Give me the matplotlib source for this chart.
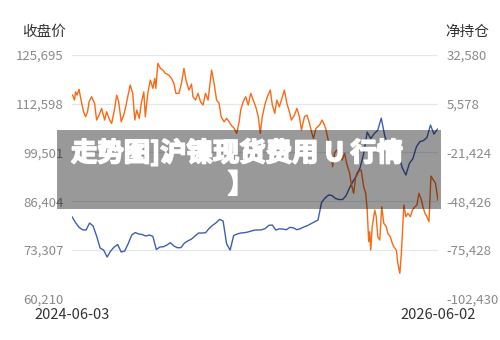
import matplotlib
matplotlib.use("Agg")
import matplotlib.pyplot as plt
import matplotlib.patheffects as pe
import pandas as pd
from matplotlib.patches import Rectangle

plt.rcParams['font.family'] = ['Noto Sans CJK SC', 'DejaVu Sans']

# close price, one reading per week from 2024-06-03
close_start = "2024-06-03"
close_vals = [
    82210, 80650, 79360, 78710, 78630, 80520, 79710, 77020, 73790, 73250,
    71370, 72990, 74060, 74730, 72720, 72990, 75000, 77290, 77960, 77560,
    77420, 77020, 77290, 76940, 73390, 74060, 74140, 74600, 75220, 74330,
    73870, 73900, 75140, 75730, 76210, 77020, 77830, 77830, 77910, 79040,
    79900, 80570, 81510, 81050, 74870, 73250, 77150, 77560, 77830, 77910,
    78090, 78360, 78630, 78630, 78710, 79040, 79900, 79980, 78630, 78960,
    78900, 78710, 79360, 79220, 78710, 79010, 79470, 79820, 80330, 80840,
    81320, 86030, 87240, 88050, 87910, 87100, 86840, 86840, 87910, 90010,
    91810, 93290, 95440, 99210, 104990, 103210, 104560, 105470, 108750, 103910,
    101220, 103110, 100690, 98670, 95310, 93420, 96570, 97830, 101030, 102410,
    102700, 103510, 106870, 104450, 105790,
]

# net position: days after 2024-06-03 and values
net_days = [
    1, 5, 7, 10, 14, 18, 23, 27, 31, 34, 39, 45, 49, 54, 59, 65, 69, 75, 79, 85,
    89, 93, 98, 103, 107, 111, 116, 121, 125, 129, 134, 138, 143, 146, 151, 156,
    161, 165, 167, 171, 176, 181, 186, 193, 198, 203, 207, 213, 218, 223, 227,
    233, 238, 241, 246, 251, 256, 261, 266, 271, 275, 278, 283, 288, 293, 297,
    303, 308, 313, 317, 323, 328, 333, 336, 341, 346, 351, 356, 361, 366, 371,
    375, 379, 384, 389, 395, 399, 404, 408, 413, 417, 423, 428, 433, 437, 443,
    448, 453, 457, 463, 468, 473, 477, 481, 486, 493, 498, 503, 506, 511, 516,
    519, 523, 527, 533, 538, 543, 547, 553, 556, 561, 565, 569, 576, 581, 585,
    588, 591, 593, 595, 598, 603, 606, 609, 613, 617, 621, 626, 629, 634, 638,
    641, 646, 649, 653, 656, 661, 665, 669, 674, 678, 683, 687, 691, 696, 699,
    703, 707, 711, 715, 720, 724, 727, 729,
]
net_vals = [
    10400, 7630, 12230, 10400, 13560, 7630, 1140, -1630, 1140, 6690, 9460, 5800,
    -3460, -690, 3030, -3460, 1140, -3460, -5290, 3030, 10400, 6690, -4400, -690,
    3920, 9460, 15950, 11350, -3460, 2090, -2520, 5800, 12230, -1630, 11350,
    18720, 14120, 19660, 14120, 27980, 25210, 24260, 22430, 21490, 19660, 16890,
    11350, 11350, 16890, 25210, 18720, 13170, 16500, 9460, 7630, 11350, 6690,
    4860, 11350, 7630, 16890, 24260, 16890, 7630, 5800, -1630, -4400, -2520,
    -4400, -6230, -8060, -10830, -4400, 2090, 6690, 9460, 4860, 11350, 7630, 3920,
    -1630, -10830, -1630, 4860, 9460, 13170, 4860, 260, 7630, 3920, 7630, 13170,
    5800, 1140, -3460, -690, 3030, -1630, -9000, -1630, -690, -5290, -9950,
    -13610, -8060, -6230, -3460, -6230, -9000, -15490, -20090, -29350, -21920,
    -20090, -21920, -25640, -21920, -27470, -33010, -38560, -44100, -34900,
    -32120, -31180, -40440, -44100, -53360, -70940, -65390, -75540, -62620,
    -53360, -57080, -68160, -69990, -51530, -60730, -62620, -66280, -68160,
    -71820, -73710, -75540, -82910, -88460, -77370, -50590, -57080, -55190,
    -57080, -53360, -51530, -50590, -44100, -47820, -51530, -55190, -57080,
    -59850, -34510, -36730, -38560, -44100, -47820,
]

left_ticks = [60210, 73307, 86404, 99501, 112598, 125695]
right_ticks = [-102430, -75428, -48426, -21424, 5578, 32580]
x_labels = ["2024-06-03", "2026-06-02"]

close_dates = pd.date_range(close_start, periods=len(close_vals), freq="7D")
net_dates = pd.Timestamp(close_start) + pd.to_timedelta(net_days, unit="D")

fig = plt.figure(figsize=(5, 3.4), dpi=100)
ax = fig.add_axes([0.144, 0.122, 0.732, 0.716])
ax2 = ax.twinx()

ax.plot(close_dates, close_vals, color="#3f5fb3", lw=1.0)
ax2.plot(net_dates, net_vals, color="#f96a14", lw=1.0)

ax.set_ylim(left_ticks[0], left_ticks[-1])
ax2.set_ylim(right_ticks[0], right_ticks[-1])
ax.set_yticks(left_ticks)
ax.set_yticklabels([f"{v:,}" for v in left_ticks])
ax2.set_yticks(right_ticks)
ax2.set_yticklabels([f"{v:,}" for v in right_ticks])

xt = [pd.Timestamp(s) for s in x_labels]
ax.set_xlim(xt[0], xt[1])
ax.set_xticks(xt)
ax.set_xticklabels(x_labels)

ax.grid(axis="y", color="#e3e8ef", lw=0.9)
ax.set_axisbelow(True)
for a in (ax, ax2):
    for s in a.spines.values():
        s.set_visible(False)
ax.tick_params(axis="y", length=0, pad=6, labelsize=9.5, labelcolor="#8a8a8a")
ax2.tick_params(axis="y", length=0, pad=6, labelsize=9.5, labelcolor="#8a8a8a")
ax.tick_params(axis="x", length=0, pad=7, labelsize=10.5, labelcolor="#333333")

fig.text(0.132, 0.905, "收盘价", ha="right", va="center", fontsize=10.5, color="#333333")
fig.text(0.89, 0.905, "净持仓", ha="left", va="center", fontsize=10.5, color="#333333")

# grey watermark band on top of the chart
fig.add_artist(Rectangle((0.114, 0.385), 0.768, 0.232, transform=fig.transFigure,
                         facecolor="black", alpha=0.4, edgecolor="none", zorder=10))
heavy = [pe.withStroke(linewidth=1.2, foreground="white")]
fig.text(0.142, 0.548, "走势图]沪镍现货费用 U 行情", ha="left", va="center",
         fontsize=19, fontweight="bold", color="white", zorder=11, path_effects=heavy)
fig.text(0.482, 0.455, "】", ha="center", va="center",
         fontsize=19, fontweight="bold", color="white", zorder=11, path_effects=heavy)

fig.savefig("out.png", dpi=100)
